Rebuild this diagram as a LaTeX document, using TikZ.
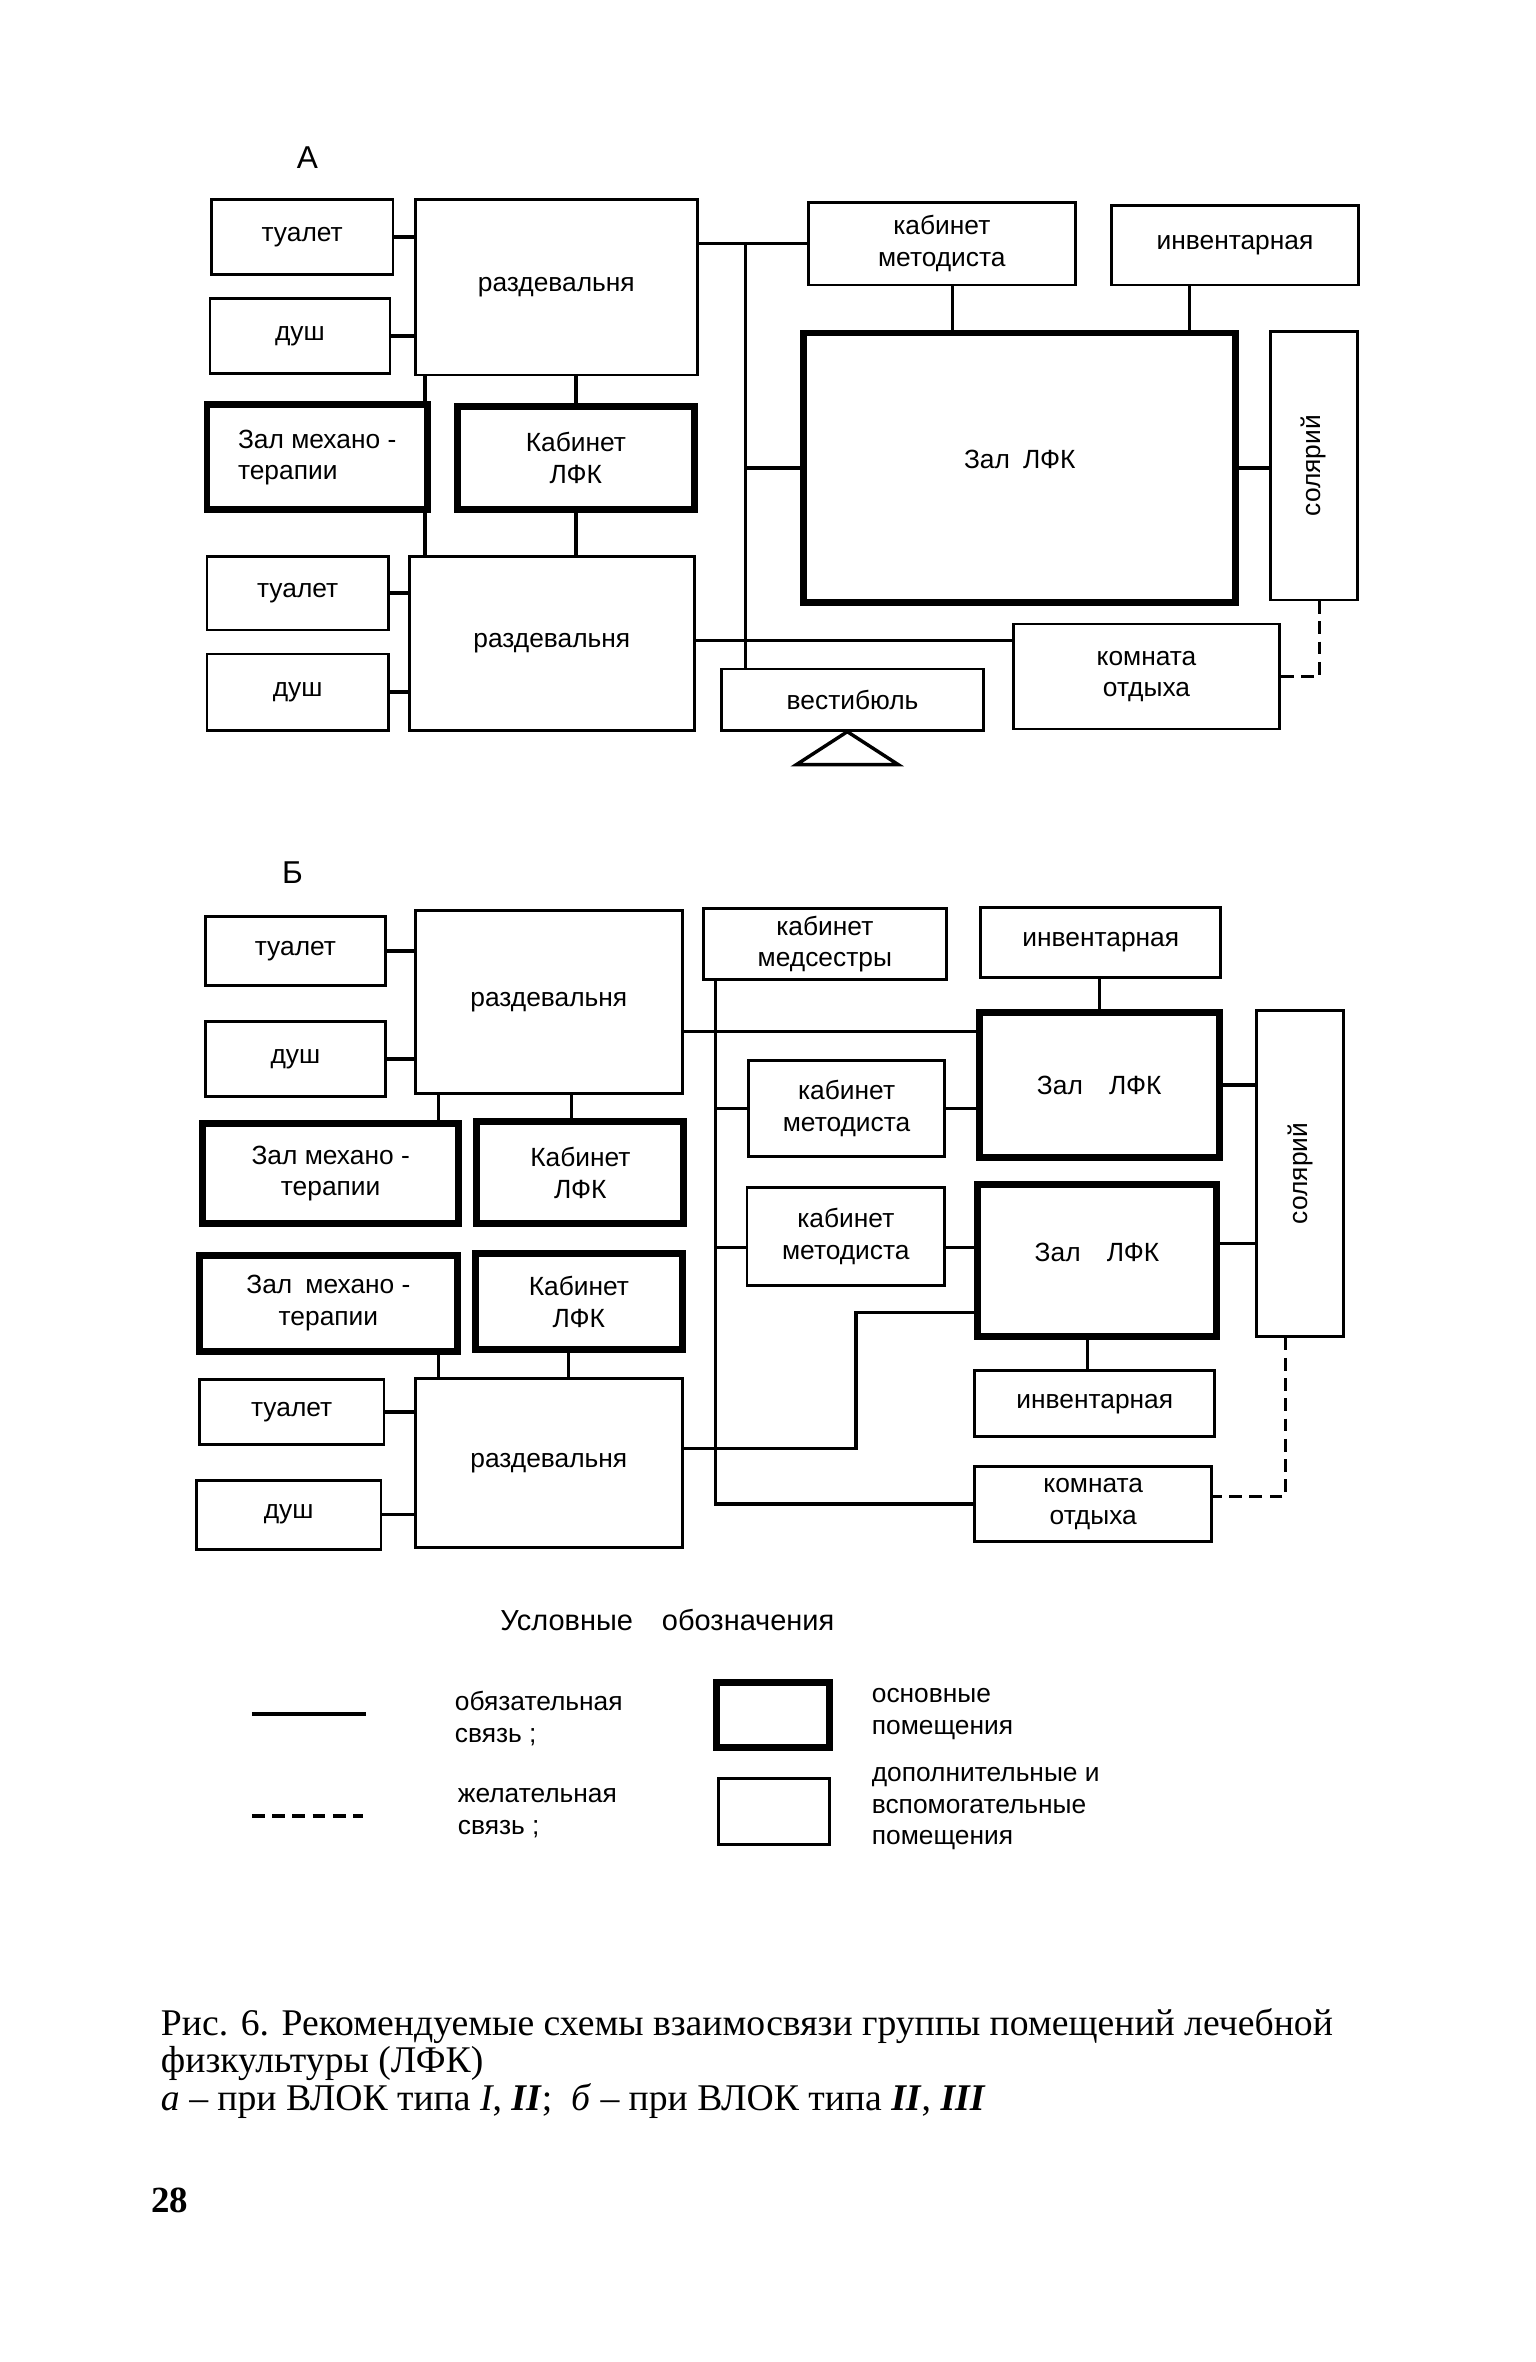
\documentclass[tikz,border=0pt]{standalone}
\usepackage{fontspec}
\usepackage{graphicx}
\setmainfont{Liberation Serif}
\newfontfamily\planfont{Liberation Sans}

\tikzset{
  room/.style={draw, line width=1pt, inner sep=1pt, align=center, font=\planfont\fontsize{10}{12}\selectfont},
  mainroom/.style={room, line width=2.6pt},
  wh/.style 2 args={minimum width=#1*0.02cm, minimum height=#2*0.02cm},
  link/.style={line width=1.3pt},
  wish/.style={line width=1.3pt, dash pattern=on 0.17cm off 0.1cm},
  legtext/.style={anchor=west, align=left, inner sep=0pt, font=\planfont\fontsize{10}{12}\selectfont},
}

\begin{document}
\begin{tikzpicture}[x=0.02cm, y=-0.02cm]
    \useasboundingbox (0,0) rectangle (1024,1575);

    % Schema A
    \node[font=\planfont\fontsize{12}{14}\selectfont] (capA) at (205,105) {А};
    \node[room, wh={121}{50}] (tA1) at (201.5,158) {туалет};
    \node[room, wh={120}{50}] (dA1) at (200,224) {душ};
    \node[room, wh={188}{117}] (rA1) at (371,191.5) {раздевальня};
    \node[mainroom, wh={147}{70}, align=left] (zmA) at (211.5,305) {Зал механо -\\терапии};
    \node[mainroom, wh={158}{69}] (klA) at (384,305.5) {Кабинет\\ЛФК};
    \node[room, wh={121}{49}] (tA2) at (198.5,395.5) {туалет};
    \node[room, wh={121}{51}] (dA2) at (198.5,461.5) {душ};
    \node[room, wh={190}{116}] (rA2) at (368,429) {раздевальня};
    \node[room, wh={178}{55}] (kmA) at (628,162.5) {кабинет\\методиста};
    \node[room, wh={165}{53}] (invA) at (823.5,163.5) {инвентарная};
    \node[mainroom, wh={288}{180}] (zlA) at (680,312) {\raisebox{0.24cm}{Зал\enspace ЛФК}};
    \node[room, wh={58}{179}] (solA) at (876,310.5) {\rotatebox{90}{солярий}};
    \node[room, wh={177}{70}] (kA) at (764.5,451) {комната\\отдыха};
    \node[room, wh={175}{41}] (vesA) at (568.5,466.5) {вестибюль};

    % Schema A links
    \draw[link] (tA1.east) -- (tA1.east -| rA1.west);
    \draw[link] (dA1.east) -- (dA1.east -| rA1.west);
    \draw[link] (tA2.east) -- (tA2.east -| rA2.west);
    \draw[link] (dA2.east) -- (dA2.east -| rA2.west);
    \coordinate (mA) at ([xshift=-0.08cm]zmA.north east);
    \draw[link] (mA) -- (mA |- rA1.south);
    \draw[link] (mA |- zmA.south) -- (mA |- rA2.north);
    \draw[link] (klA.north) -- (klA.north |- rA1.south);
    \draw[link] (klA.south) -- (klA.south |- rA2.north);
    \draw[link] (kmA.west) -- (kmA.west -| rA1.east);
    \coordinate (busA) at ([xshift=0.34cm]vesA.north west);
    \draw[link] (busA |- kmA.west) -- (busA);
    \draw[link] (busA |- zlA.west) -- (zlA.west);
    \coordinate (hA) at ([yshift=-0.24cm]kA.north west);
    \draw[link] (hA -| rA2.east) -- (hA);
    \coordinate (mkA) at ([xshift=0.14cm]kmA.south);
    \draw[link] (mkA) -- (mkA |- zlA.north);
    \coordinate (iA) at ([xshift=-0.61cm]invA.south);
    \draw[link] (iA) -- (iA |- zlA.north);
    \draw[link] (zlA.east) -- (zlA.east -| solA.west);
    \coordinate (sA) at ([xshift=0.08cm]solA.south);
    \draw[wish] (sA) |- (kA.east);
    \draw[link] ([xshift=-0.07cm]vesA.south) -- ++(-34,22) -- ++(68,0) -- cycle;

    % Schema B
    \node[font=\planfont\fontsize{12}{14}\selectfont] (capB) at (195,582) {Б};
    \node[room, wh={120}{46}] (tB1) at (197,634) {туалет};
    \node[room, wh={120}{50}] (dB1) at (197,706) {душ};
    \node[room, wh={178}{122}] (rB1) at (366,668) {раздевальня};
    \node[room, wh={162}{47}] (ksB) at (550,629.5) {кабинет\\медсестры};
    \node[room, wh={160}{47}] (iB1) at (734,628.5) {инвентарная};
    \node[mainroom, wh={171}{67}] (zmB1) at (220.5,782.5) {Зал механо -\\терапии};
    \node[mainroom, wh={138}{68}] (klB1) at (387,782) {Кабинет\\ЛФК};
    \node[room, wh={131}{64}] (kmB1) at (564.5,739) {кабинет\\методиста};
    \node[mainroom, wh={160}{97}] (zlB1) at (733,723.5) {Зал\quad ЛФК};
    \node[room, wh={58}{217}] (solB) at (867,782.5) {\rotatebox{90}{солярий}};
    \node[mainroom, wh={172}{64}] (zmB2) at (219,869) {Зал\enspace механо -\\терапии};
    \node[mainroom, wh={138}{64}] (klB2) at (386,868) {Кабинет\\ЛФК};
    \node[room, wh={132}{65}] (kmB2) at (564,824.5) {кабинет\\методиста};
    \node[mainroom, wh={159}{101}] (zlB2) at (731.5,840.5) {\raisebox{0.22cm}{Зал\quad ЛФК}};
    \node[room, wh={160}{44}] (iB2) at (730,936) {инвентарная};
    \node[room, wh={123}{43}] (tB2) at (194.5,941.5) {туалет};
    \node[room, wh={123}{46}] (dB2) at (192.5,1010) {душ};
    \node[room, wh={178}{113}] (rB2) at (366,975.5) {раздевальня};
    \node[room, wh={158}{50}] (kB) at (729,1003) {комната\\отдыха};

    % Schema B links
    \draw[link] (tB1.east) -- (tB1.east -| rB1.west);
    \draw[link] (dB1.east) -- (dB1.east -| rB1.west);
    \draw[link] (tB2.east) -- (tB2.east -| rB2.west);
    \draw[link] (dB2.east) -- (dB2.east -| rB2.west);
    \coordinate (mB1) at ([xshift=-0.32cm]zmB1.north east);
    \draw[link] (mB1) -- (mB1 |- rB1.south);
    \coordinate (mB2) at ([xshift=-0.3cm]zmB2.south east);
    \draw[link] (mB2) -- (mB2 |- rB2.north);
    \coordinate (lB1) at ([xshift=-0.12cm]klB1.north);
    \draw[link] (lB1) -- (lB1 |- rB1.south);
    \coordinate (lB2) at ([xshift=-0.14cm]klB2.south);
    \draw[link] (lB2) -- (lB2 |- rB2.north);
    \coordinate (hB) at ([yshift=-0.3cm]zlB1.north west);
    \draw[link] (hB -| rB1.east) -- (hB);
    \coordinate (busB) at ([xshift=0.18cm]ksB.south west);
    \draw[link] (busB) |- (kB.west);
    \draw[link] (busB |- kmB1.west) -- (kmB1.west);
    \draw[link] (kmB1.east) -- (kmB1.east -| zlB1.west);
    \coordinate (mtB) at ([yshift=-0.15cm]kmB2.west);
    \draw[link] (busB |- mtB) -- (mtB);
    \coordinate (mrB) at ([yshift=-0.15cm]kmB2.east);
    \draw[link] (mrB) -- (mrB -| zlB2.west);
    \coordinate (bendB) at ([xshift=-1.58cm,yshift=0.36cm]zlB2.south west);
    \draw[link] ([yshift=0.19cm]rB2.east) -| (bendB) -- (bendB -| zlB2.west);
    \draw[link] (zlB1.north) -- (zlB1.north |- iB1.south);
    \draw[link] (zlB1.east) -- (zlB1.east -| solB.west);
    \coordinate (sB2) at ([yshift=0.23cm]zlB2.east);
    \draw[link] (sB2) -- (sB2 -| solB.west);
    \coordinate (iB) at ([xshift=-0.13cm]zlB2.south);
    \draw[link] (iB) -- (iB |- iB2.north);
    \coordinate (sB) at ([xshift=-0.2cm]solB.south);
    \draw[wish] (sB) |- ([yshift=0.1cm]kB.east);

    % Legend
    \node[font=\planfont\fontsize{11}{13}\selectfont] (lgT) at (445,1080) {Условные\quad обозначения};
    \coordinate (lgS1) at (168,1143);
    \coordinate (lgS2) at (244,1143);
    \draw[link] (lgS1) -- (lgS2);
    \node[legtext] (lgS) at (303,1146) {обязательная\\связь ;};
    \node[mainroom, wh={75}{43}] (lgM) at (515.5,1143.5) {};
    \node[legtext] (lgMt) at (581,1143) {основные\\помещения};
    \coordinate (lgD1) at (168,1211);
    \coordinate (lgD2) at (242,1211);
    \draw[wish] (lgD1) -- (lgD2);
    \node[legtext] (lgD) at (305,1209) {желательная\\связь ;};
    \node[room, wh={74}{44}] (lgA) at (516,1208) {};
    \node[legtext] (lgAt) at (581,1206) {дополнительные и\\вспомогательные\\помещения};

    % Caption
    \node[anchor=north west, align=left, inner sep=0pt, font=\fontsize{14.3}{12.8}\selectfont] (cap) at (107,1339)
        {Рис. 6. Рекомендуемые схемы взаимосвязи группы помещений лечебной\\
         физкультуры (ЛФК)\\
         \textit{а} -- при ВЛОК типа \textit{I}, \textbf{\textit{II}};\enspace \textit{б} -- при ВЛОК типа \textbf{\textit{II}}, \textbf{\textit{III}}};
    \node[font=\bfseries\fontsize{14}{16}\selectfont] (pg) at (113,1467) {28};
\end{tikzpicture}
\end{document}
